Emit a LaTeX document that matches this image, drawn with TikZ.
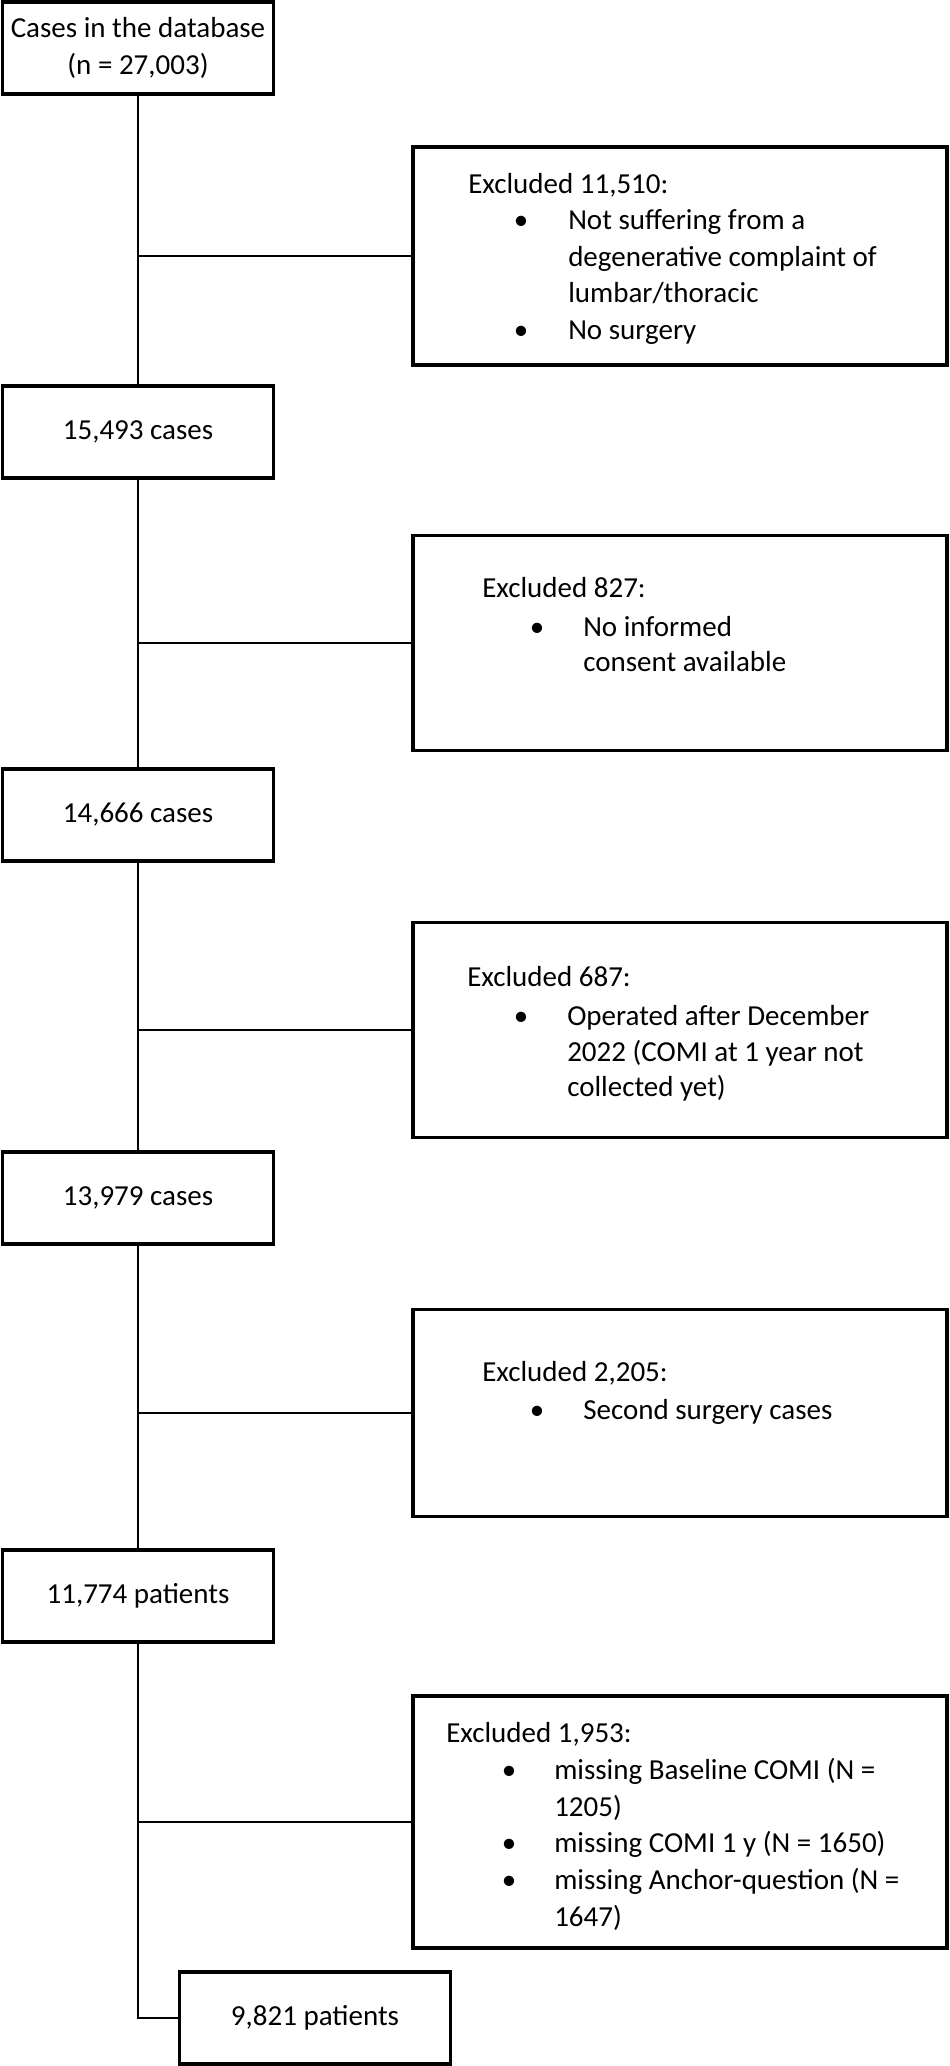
\documentclass[tikz,border=0pt]{standalone}
\usepackage{fontspec}
\setmainfont{Carlito}
\tikzset{every picture/.style={line width=2.5pt}}
\tikzset{
  stage/.style={draw, line width=3.5pt, minimum width=271pt, minimum height=92pt, align=center, inner sep=0pt},
  excl/.style={draw, line width=3.5pt, minimum width=534pt, inner sep=0pt},
  txt/.style={anchor=mid west, inner sep=0pt},
  dot/.style={anchor=mid, inner sep=0pt}
}

\begin{document}
\begin{tikzpicture}[x=1pt,y=1pt,yscale=-1,xscale=1]
		\useasboundingbox (0,0) rectangle (950,2066);
		\fontsize{29}{36.5}\selectfont
		
		% main flow
		\node [stage] (c1) at (138,48) {Cases in the database\\(n = 27,003)};
		\node [stage] (c2) at (138,432) {15,493 cases};
		\node [stage] (c3) at (138,815) {14,666 cases};
		\node [stage] (c4) at (138,1198) {13,979 cases};
		\node [stage] (c5) at (138,1596) {11,774 patients};
		\node [stage] (c6) at (315,2018) {9,821 patients};
		
		% exclusion boxes
		\node [excl, minimum height=218pt] (e1) at (680,256) {};
		\node [excl, minimum height=215pt] (e2) at (680,643) {};
		\node [excl, minimum height=215pt] (e3) at (680,1030) {};
		\node [excl, minimum height=207pt] (e4) at (680,1413) {};
		\node [excl, minimum height=252pt] (e5) at (680,1822) {};
		
		% connectors
		\draw (c1) -- (c2) -- (c3) -- (c4) -- (c5);
		\draw (c5.south) |- (c6.west);
		\draw (c1.south |- e1.west) -- (e1.west);
		\draw (c2.south |- e2.west) -- (e2.west);
		\draw (c3.south |- e3.west) -- (e3.west);
		\draw (c4.south |- e4.west) -- (e4.west);
		\draw (c5.south |- e5.west) -- (e5.west);
		
		% texts of e1
		\node [txt] (h1) at (467,187) {Excluded 11,510:};
		\node [dot] (b11) at (521,223) {\textbullet};
		\node [txt] (t11) at (567,223) {Not suffering from a};
		\node [txt] (t12) at (567,260) {degenerative complaint of};
		\node [txt] (t13) at (567,296) {lumbar/thoracic};
		\node [dot] (b12) at (521,333) {\textbullet};
		\node [txt] (t14) at (567,333) {No surgery};
		
		% texts of e2
		\node [txt] (h2) at (481,591) {Excluded 827:};
		\node [dot] (b21) at (537,630) {\textbullet};
		\node [txt] (t21) at (582,630) {No informed};
		\node [txt] (t22) at (582,665) {consent available};
		
		% texts of e3
		\node [txt] (h3) at (466,980) {Excluded 687:};
		\node [dot] (b31) at (521,1019) {\textbullet};
		\node [txt] (t31) at (566,1019) {Operated after December};
		\node [txt] (t32) at (566,1055) {2022 (COMI at 1 year not};
		\node [txt] (t33) at (566,1090) {collected yet)};
		
		% texts of e4
		\node [txt] (h4) at (481,1375) {Excluded 2,205:};
		\node [dot] (b41) at (537,1413) {\textbullet};
		\node [txt] (t41) at (582,1413) {Second surgery cases};
		
		% texts of e5
		\node [txt] (h5) at (445,1736) {Excluded 1,953:};
		\node [dot] (b51) at (509,1773) {\textbullet};
		\node [txt] (t51) at (553,1773) {missing Baseline COMI (N =};
		\node [txt] (t52) at (553,1810) {1205)};
		\node [dot] (b52) at (509,1846) {\textbullet};
		\node [txt] (t53) at (553,1846) {missing COMI 1 y (N = 1650)};
		\node [dot] (b53) at (509,1883) {\textbullet};
		\node [txt] (t54) at (553,1883) {missing Anchor-question (N =};
		\node [txt] (t55) at (553,1920) {1647)};
		
	\end{tikzpicture}
\end{document}
